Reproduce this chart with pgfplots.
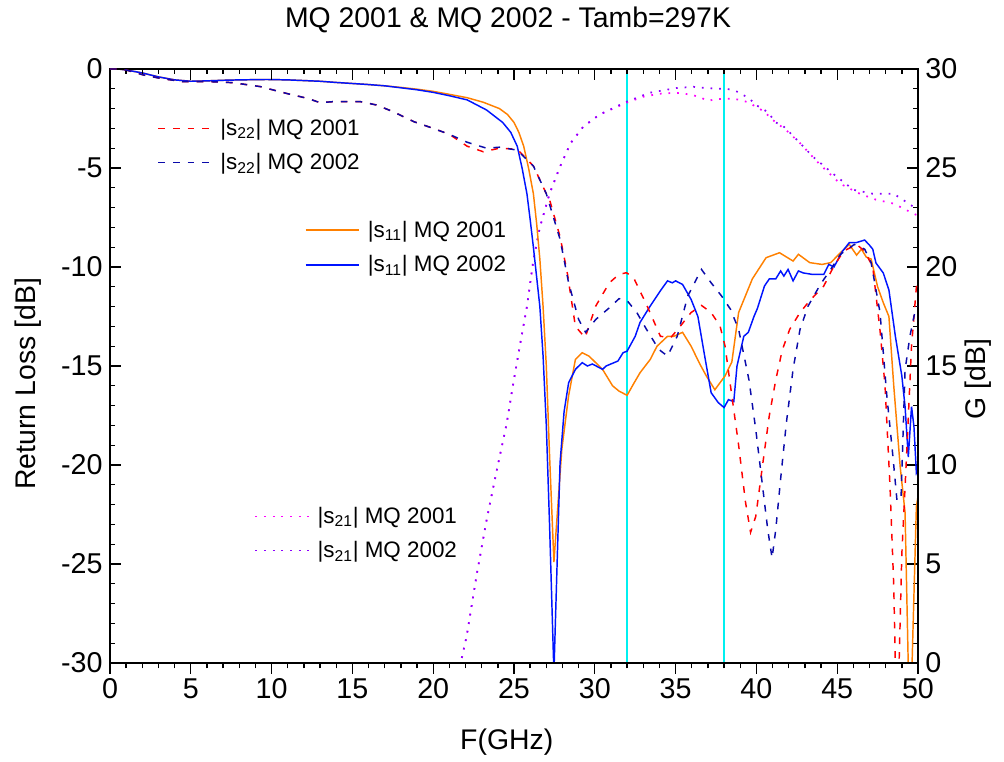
\documentclass[border=0pt]{standalone}
\usepackage{pgfplots}
\pgfplotsset{compat=1.18}
\usepackage{fontspec}
\setmainfont{Liberation Sans}
\definecolor{sorange}{RGB}{255,128,0}
\definecolor{sblue}{RGB}{0,20,255}
\definecolor{sred}{RGB}{255,0,0}
\definecolor{snavy}{RGB}{10,10,170}
\definecolor{smag}{RGB}{255,0,255}
\definecolor{spurp}{RGB}{140,0,255}
\definecolor{scyan}{RGB}{0,240,240}
\newcommand{\lgent}[2]{\hspace*{4pt}|s\textsubscript{#1}| MQ #2}
\begin{document}
\begin{tikzpicture}
\useasboundingbox (-82.5pt,-74.25pt) rectangle (670.5pt,497.25pt);
\pgfplotsset{
  base/.style={width=606pt,height=445.5pt,scale only axis,at={(0pt,0pt)},anchor=south west,
    xmin=0,xmax=50,clip=true,
    axis line style={line width=1.2pt},
    major tick length=8pt,minor tick length=4pt,
    every tick/.style={black,line width=1pt},
    tick label style={font=\fontsize{21.5}{25}\selectfont},
    label style={font=\fontsize{21.3}{25}\selectfont},
    legend image code/.code={\draw[##1] (0pt,0pt) -- (40pt,0pt);},
    legend cell align=left,
    legend style={draw=none,fill=none,anchor=west,font=\fontsize{16.8}{20}\selectfont,
      inner xsep=0pt,inner ysep=0pt,row sep=8pt},
  },
  s11/.style={line width=1.1pt},
  s22/.style={line width=1.1pt,dash pattern=on 5pt off 6pt},
  s21/.style={line width=1.3pt,dash pattern=on 1.3pt off 5.2pt},
}
% bottom axis (outside ticks) and cyan markers
\begin{axis}[base, ymin=-30,ymax=0,
  axis x line*=bottom, axis y line=none, tick align=outside,
  xtick={0,5,10,15,20,25,30,35,40,45,50},
  xticklabels={0,5,10,15,20,25,30,35,40,45,50},
  minor x tick num=4,
  xlabel={F(GHz)},
  xlabel style={at={(axis description cs:0.491,-0.133)},anchor=center}]
\addplot[scyan,line width=1.1pt] coordinates {(32,-30) (32,0)};
\addplot[scyan,line width=1.1pt] coordinates {(38,-30) (38,0)};
\end{axis}
% s21 on right axis
\begin{axis}[base, ymin=0,ymax=30,
  axis x line=none, axis y line*=right, tick align=inside,
  ytick={0,5,10,15,20,25,30}, yticklabels={0,5,10,15,20,25,30},
  minor y tick num=4,
  yticklabel style={xshift=2pt},
  ylabel={G [dB]},
  ylabel style={at={(axis description cs:1.074,0.478)},anchor=center},
  legend style={at={(axis description cs:0.1786,0.218)}}]
\addplot[smag,s21] coordinates {
(21.3,-1) (21.7,0) (22.07,1.35) (22.7,4.5) (23.3,7.2) (23.9,9.6) (24.55,12.1) (24.95,14.1)
(25.4,16.2) (25.8,18.0) (26.2,20.35) (26.6,22.0) (27.2,23.7) (27.85,25.07) (28.5,26.25)
(29.3,27.1) (30.3,27.7) (31.97,28.3) (33,28.6) (34,28.75) (35,28.8) (36,28.7) (36.5,28.57)
(37.0,28.4) (37.54,28.47) (38.06,28.5) (38.6,28.5) (39.15,28.4) (39.56,28.3) (40.0,28.07)
(40.5,27.85) (40.9,27.5) (41.36,27.2) (41.8,26.95) (42.7,26.25) (43.9,25.2) (45.2,24.2)
(46.4,23.7) (47.4,23.4) (48.5,23.2) (49.7,22.7) (50,22.6)};
\addlegendentry{\lgent{21}{2001}}
\addplot[spurp,s21] coordinates {
(21.3,-1) (21.7,0) (22.07,1.35) (22.7,4.5) (23.3,7.2) (23.9,9.6) (24.55,12.1) (24.95,14.1)
(25.4,16.2) (25.8,18.0) (26.2,20.35) (26.6,22.0) (27.2,23.7) (27.85,25.07) (28.5,26.25)
(29.3,27.1) (30.3,27.7) (31.97,28.35) (33.4,28.8) (35.07,29.04) (36.1,29.1) (36.5,29.06)
(37.07,29.03) (37.6,29.0) (38.16,29.0) (38.7,28.9) (39.15,28.7) (39.6,28.5) (39.9,28.2)
(40.4,28.0) (40.84,27.7) (41.15,27.3) (41.56,27.2) (42.3,26.6) (43.5,25.57) (44.76,24.7)
(46.0,23.9) (47.2,23.7) (48.5,23.7) (49.7,23.05) (50,22.9)};
\addlegendentry{\lgent{21}{2002}}
\end{axis}
% s11
\begin{axis}[base, ymin=-30,ymax=0, hide axis,
  legend image code/.code={\draw[#1,line width=1.5pt] (0pt,0pt) -- (40pt,0pt);},
  legend style={at={(axis description cs:0.2405,0.6995)}}]
\addplot[draw=sorange,s11] coordinates {
(0,0) (0.5,0) (1,-0.05) (2,-0.2) (3,-0.4) (4,-0.55) (5,-0.62) (6,-0.6) (7,-0.57) (8,-0.55)
(9.7,-0.53) (11,-0.55) (13,-0.62) (14,-0.68) (15.9,-0.78) (17,-0.85) (18,-0.93) (19,-1.02)
(20,-1.13) (21,-1.28) (22.1,-1.45) (23.1,-1.68) (24.1,-2.0) (24.6,-2.3) (25,-2.7) (25.3,-3.2)
(25.6,-3.9) (25.9,-5) (26.2,-6.3) (26.4,-7.8) (26.6,-9.6) (26.8,-12) (27.0,-15) (27.2,-19.5)
(27.47,-24.9) (27.96,-19.2) (28.38,-16.5) (28.8,-14.67) (29.22,-14.33) (29.64,-14.5)
(30.48,-15.17) (31.1,-16.0) (31.5,-16.27) (32.0,-16.48) (32.4,-15.9) (32.8,-15.34)
(33.43,-14.67) (33.85,-14.0) (34.5,-13.5) (34.9,-13.5) (35.43,-13.3) (35.96,-14.0)
(36.5,-14.9) (36.9,-15.5) (37.43,-16.2) (38.06,-15.5) (38.48,-14.8) (38.9,-12.3)
(39.75,-10.6) (40.6,-9.53) (41.43,-9.28) (42.27,-9.7) (42.6,-9.36) (43.3,-9.78)
(44.06,-9.87) (44.6,-9.78) (45.2,-9.28) (45.75,-8.86) (46.2,-9.4) (46.5,-9.1) (46.8,-9.5)
(47.1,-9.6) (47.5,-11.0) (47.85,-11.8) (48.2,-12.5) (48.5,-16.0) (48.9,-20.1) (49.2,-22.4)
(49.42,-31) (49.6,-31) (49.9,-22.1) (50,-21.6)};
\addlegendentry{\lgent{11}{2001}}
\addplot[draw=sblue,s11] coordinates {
(0,0) (0.5,0) (1,-0.05) (2,-0.2) (3,-0.4) (4,-0.55) (5,-0.62) (6,-0.6) (7,-0.57) (8,-0.55)
(9.7,-0.53) (11,-0.55) (13,-0.62) (14,-0.68) (15.9,-0.78) (17,-0.85) (18,-0.95) (19,-1.05)
(20,-1.18) (21,-1.35) (22.1,-1.56) (23.3,-2.07) (24.3,-2.7) (24.8,-3.2) (25.2,-3.9)
(25.5,-5) (25.8,-6.3) (26.0,-7.6) (26.2,-9) (26.4,-10.5) (26.6,-12) (26.8,-14.5) (27.0,-18)
(27.2,-23) (27.47,-30.5) (27.85,-19.9) (28.1,-17.3) (28.38,-15.85) (28.8,-15.17)
(29.22,-14.83) (29.54,-15.0) (29.85,-14.9) (30.48,-15.17) (30.7,-15.0) (31.43,-14.75)
(31.75,-14.33) (32.0,-14.25) (32.5,-13.5) (32.8,-12.8) (33.43,-11.97) (34.06,-11.2)
(34.5,-10.7) (34.8,-10.8) (35.0,-10.7) (35.43,-10.88) (35.96,-11.64) (36.38,-12.5)
(36.8,-14.5) (37.2,-16.35) (37.64,-16.85) (38.0,-17.1) (38.27,-16.7) (38.6,-16.8)
(38.8,-15.0) (39.22,-13.5) (39.5,-13.3) (39.85,-12.5) (40.06,-12.1) (40.5,-10.96)
(40.8,-10.6) (41.2,-10.6) (41.5,-10.2) (41.7,-10.46) (41.96,-10.12) (42.27,-10.7)
(42.6,-10.2) (42.9,-10.3) (43.43,-10.37) (44.17,-10.37) (44.48,-9.87) (44.8,-10.0)
(45.33,-9.2) (45.75,-8.77) (46.17,-8.77) (46.7,-8.64) (47.0,-8.9) (47.2,-9.1) (47.4,-9.8)
(47.85,-10.3) (48.2,-11.16) (48.6,-13.5) (49.0,-15.5) (49.2,-17.05) (49.4,-19.6)
(49.6,-17.05) (49.75,-18.06) (49.9,-20.4) (50,-20.2)};
\addlegendentry{\lgent{11}{2002}}
\end{axis}
% s22 + left axis + frame
\begin{axis}[base, ymin=-30,ymax=0, tick align=inside,
  xtick={0,5,10,15,20,25,30,35,40,45,50}, xticklabels={}, xtick pos=right,
  minor x tick num=4,
  ytick={-30,-25,-20,-15,-10,-5,0}, yticklabels={-30,-25,-20,-15,-10,-5,0},
  ytick pos=left, minor y tick num=4,
  yticklabel style={xshift=-2pt},
  ylabel={Return Loss [dB]},
  ylabel style={at={(axis description cs:-0.1015,0.47)},anchor=center},
  every axis title shift=0pt,
  title={MQ 2001 \& MQ 2002 - Tamb=297K},
  title style={at={(axis description cs:0.4926,1.0825)},anchor=center,font=\fontsize{21.3}{25}\selectfont},
  legend style={at={(axis description cs:0.0586,0.8712)}}]
\addplot[sred,s22] coordinates {
(0,0) (0.5,0) (1,-0.05) (2.06,-0.3) (3.1,-0.47) (4.5,-0.64) (6.2,-0.64) (7.6,-0.69)
(9.3,-0.89) (10.9,-1.23) (12.2,-1.48) (13.0,-1.7) (13.8,-1.65) (15.5,-1.65) (16.5,-1.82)
(17.5,-2.15) (18.8,-2.66) (20.0,-3.0) (21.0,-3.3) (22.1,-3.9) (23.1,-4.18) (24.1,-4.0)
(25.2,-4.05) (26.2,-4.9) (27.0,-6.3) (27.2,-6.6) (27.85,-8.47) (28.3,-10.3) (28.8,-13.0)
(29.4,-13.57) (30.06,-11.97) (30.9,-10.8) (31.5,-10.37) (31.96,-10.29) (32.4,-10.54)
(33.2,-11.9) (34.06,-13.5) (34.7,-13.57) (35.3,-12.98) (35.96,-12.3) (36.6,-11.94)
(37.2,-12.3) (37.75,-12.98) (38.06,-14.0) (38.48,-16.5) (38.9,-19.0) (39.33,-21.9)
(39.64,-23.4) (39.96,-22.6) (40.4,-19.9) (40.8,-17.5) (41.2,-15.7) (41.6,-14.2)
(42.06,-13.15) (42.7,-12.3) (43.3,-11.7) (44.17,-10.96) (44.8,-9.95) (45.4,-9.2)
(46.2,-8.86) (46.7,-9.2) (47.2,-10.0) (47.65,-13.2) (47.96,-16.0) (48.27,-21.1)
(48.5,-26.1) (48.62,-31) (48.8,-31) (49.0,-24.5) (49.3,-19.4) (49.6,-14.0) (49.9,-11.0)
(50,-10.8)};
\addlegendentry{\lgent{22}{2001}}
\addplot[snavy,s22] coordinates {
(0,0) (0.5,0) (1,-0.05) (2.06,-0.3) (3.1,-0.47) (4.5,-0.64) (6.2,-0.64) (7.6,-0.69)
(9.3,-0.89) (10.9,-1.23) (12.2,-1.48) (13.0,-1.7) (13.8,-1.65) (15.5,-1.65) (16.5,-1.82)
(17.5,-2.15) (18.8,-2.66) (20.0,-3.0) (21.0,-3.3) (22.1,-3.7) (23.3,-4.0) (24.1,-3.95)
(25.2,-4.1) (26.2,-4.9) (27.0,-6.3) (27.85,-8.6) (28.38,-10.8) (29.0,-12.65) (29.43,-13.3)
(30.06,-12.65) (30.9,-12.06) (31.5,-11.6) (32.0,-11.7) (32.6,-12.3) (33.2,-13.15)
(33.96,-14.16) (34.5,-14.5) (35.1,-13.5) (35.75,-11.47) (36.6,-10.12) (37.2,-10.8)
(37.85,-11.47) (38.4,-12.14) (38.9,-13.15) (39.54,-15.7) (39.96,-18.2) (40.4,-21.2)
(40.7,-23.25) (40.97,-24.7) (41.2,-23.25) (41.5,-20.7) (41.85,-17.9) (42.27,-15.17)
(42.7,-13.15) (43.2,-11.97) (43.96,-10.88) (44.6,-10.12) (45.2,-9.36) (46.06,-8.86)
(46.7,-9.1) (47.1,-9.78) (47.65,-12.3) (48.06,-16.4) (48.47,-19.75) (48.7,-21.8)
(48.95,-21.7) (49.2,-15.2) (49.5,-13.5) (49.8,-12.3) (50,-12.0)};
\addlegendentry{\lgent{22}{2002}}
\end{axis}
\end{tikzpicture}
\end{document}
